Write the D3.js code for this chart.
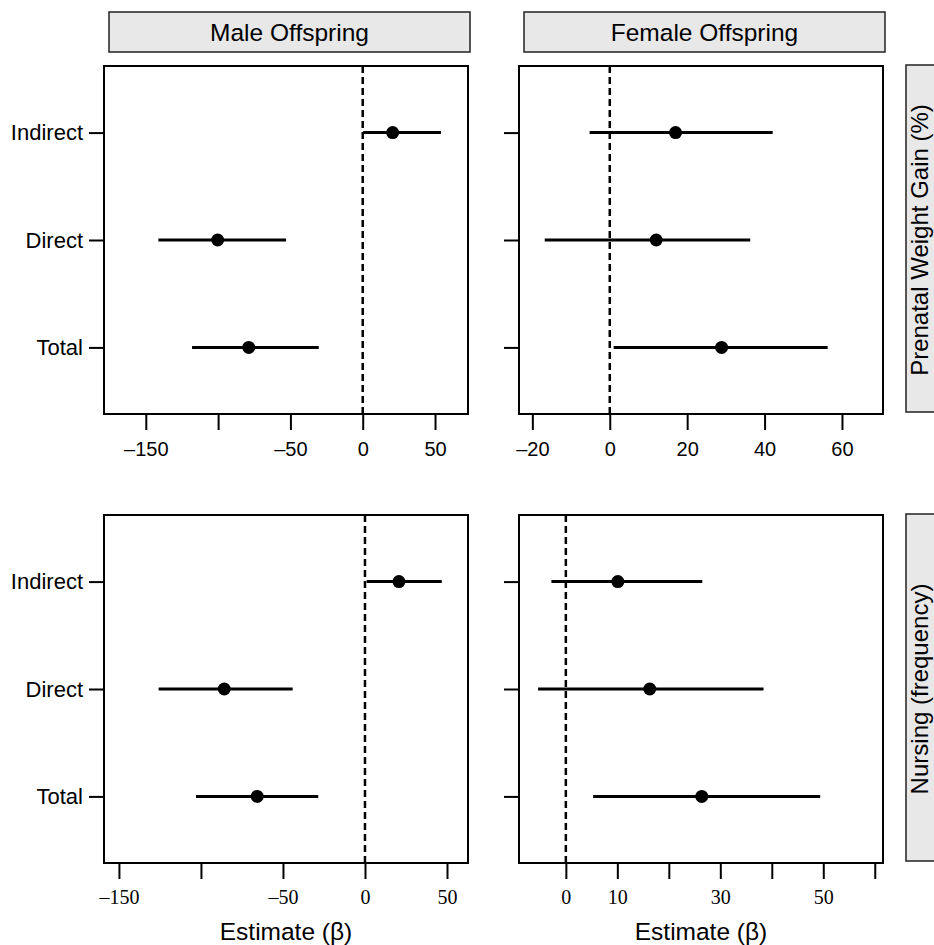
<!DOCTYPE html>
<html><head><meta charset="utf-8">
<script src="https://cdn.jsdelivr.net/npm/d3@7"></script>
<style>body{margin:0;background:#fff}svg{display:block}</style>
</head><body>
<svg id="chart" width="934" height="945"></svg>
<script>
// ---------- data ----------
const effects = ["Indirect", "Direct", "Total"];
const sexes = ["Male Offspring", "Female Offspring"];
const outcomes = ["Prenatal Weight Gain (%)", "Nursing (frequency)"];

const pwgMaleEst   = [20.7, -100.3, -78.8];
const pwgMaleLow   = [0.3, -141.3, -118.0];
const pwgMaleHigh  = [54.1, -53.0, -30.4];

const pwgFemaleEst  = [17.0, 12.0, 28.9];
const pwgFemaleLow  = [-5.2, -16.8, 1.0];
const pwgFemaleHigh = [42.1, 36.3, 56.3];

const nurMaleEst   = [20.7, -85.8, -65.7];
const nurMaleLow   = [1.0, -125.8, -103.0];
const nurMaleHigh  = [46.8, -44.1, -28.5];

const nurFemaleEst  = [10.1, 16.3, 26.4];
const nurFemaleLow  = [-2.8, -5.4, 5.3];
const nurFemaleHigh = [26.5, 38.4, 49.4];

// axis limits (value units)
const pwgMaleLim = [-178.9, 72.8];
const pwgFemaleLim = [-23.45, 70.6];
const nurMaleLim = [-159.1, 62.8];
const nurFemaleLim = [-9.1, 61.6];

const maleTicks = [-150, -100, -50, 0, 50];
const maleTickLabels = ["\u2013150", "", "\u201350", "0", "50"];
const pwgFemaleTicks = [-20, 0, 20, 40, 60];
const pwgFemaleTickLabels = ["\u201320", "0", "20", "40", "60"];
const nurFemaleTicks = [0, 10, 20, 30, 40, 50, 60];
const nurFemaleTickLabels = ["0", "10", "", "30", "", "50", ""];

const xTitle = "Estimate (\u03b2)";

// ---------- panels ----------
const panels = [
  {row:0, col:0, est:pwgMaleEst, low:pwgMaleLow, high:pwgMaleHigh, lim:pwgMaleLim, ticks:maleTicks, labels:maleTickLabels},
  {row:0, col:1, est:pwgFemaleEst, low:pwgFemaleLow, high:pwgFemaleHigh, lim:pwgFemaleLim, ticks:pwgFemaleTicks, labels:pwgFemaleTickLabels},
  {row:1, col:0, est:nurMaleEst, low:nurMaleLow, high:nurMaleHigh, lim:nurMaleLim, ticks:maleTicks, labels:maleTickLabels},
  {row:1, col:1, est:nurFemaleEst, low:nurFemaleLow, high:nurFemaleHigh, lim:nurFemaleLim, ticks:nurFemaleTicks, labels:nurFemaleTickLabels}
];

const colX = [104, 519], panelW = 364;
const rowY = [66, 515], panelH = 348;

const svg = d3.select("#chart");
const sans = "'Liberation Sans', Arial, Helvetica, sans-serif";
const serif = "'Liberation Serif', 'Times New Roman', serif";

// column strips
sexes.forEach((s, i) => {
  const g = svg.append("g");
  g.append("rect").attr("x", colX[i] + 5).attr("y", 12).attr("width", panelW - 3).attr("height", 40)
    .attr("fill", "#e8e8e8").attr("stroke", "#222").attr("stroke-width", 1.5);
  g.append("text").attr("x", colX[i] + 5 + (panelW - 3) / 2).attr("y", 32)
    .attr("text-anchor", "middle").attr("dominant-baseline", "central")
    .attr("font-family", sans).attr("font-size", 24.5).attr("fill", "#000").text(s);
});

// row strips
outcomes.forEach((o, i) => {
  const g = svg.append("g");
  g.append("rect").attr("x", 906).attr("y", rowY[i] - 1).attr("width", 42).attr("height", panelH - 1)
    .attr("fill", "#e8e8e8").attr("stroke", "#222").attr("stroke-width", 1.5);
  g.append("text").attr("transform", `translate(919.5,${rowY[i] + panelH / 2}) rotate(-90)`)
    .attr("text-anchor", "middle").attr("dominant-baseline", "central")
    .attr("font-family", sans).attr("font-size", 24).attr("fill", "#000").text(o);
});

panels.forEach(p => {
  const x0 = colX[p.col], y0 = rowY[p.row];
  const x = d3.scaleLinear().domain(p.lim).range([x0, x0 + panelW]);
  const y = d3.scalePoint().domain(effects).range([y0, y0 + panelH]).padding(0.62);
  const g = svg.append("g");

  // x axis (ticks outward)
  const xAxis = d3.axisBottom(x).tickValues(p.ticks).tickSize(15).tickPadding(p.row === 0 ? 12 : 11)
    .tickFormat((d, i) => p.labels[i]);
  const xa = g.append("g").attr("transform", `translate(0,${y0 + panelH + 1})`).call(xAxis);
  xa.select(".domain").remove();
  xa.selectAll(".tick line").attr("stroke", "#000").attr("stroke-width", 2);
  xa.selectAll(".tick text").attr("fill", "#000")
    .attr("font-family", p.row === 1 ? serif : sans).attr("font-size", 20);

  // y axis
  const yAxis = d3.axisLeft(y).tickSize(15).tickPadding(6)
    .tickFormat(d => p.col === 0 ? d : "");
  const ya = g.append("g").attr("transform", `translate(${x0},0)`).call(yAxis);
  ya.select(".domain").remove();
  ya.selectAll(".tick line").attr("stroke", "#000").attr("stroke-width", 2);
  ya.selectAll(".tick text").attr("fill", "#000").attr("font-family", sans).attr("font-size", 22);

  // zero reference line
  g.append("line").attr("x1", x(0)).attr("x2", x(0)).attr("y1", y0).attr("y2", y0 + panelH)
    .attr("stroke", "#000").attr("stroke-width", 2.5).attr("stroke-dasharray", "7,4");

  // intervals
  g.selectAll("line.ci").data(effects).join("line").attr("class", "ci")
    .attr("x1", (d, i) => x(p.low[i])).attr("x2", (d, i) => x(p.high[i]))
    .attr("y1", d => y(d)).attr("y2", d => y(d))
    .attr("stroke", "#000").attr("stroke-width", 3);

  // estimates
  g.selectAll("circle").data(effects).join("circle")
    .attr("cx", (d, i) => x(p.est[i])).attr("cy", d => y(d)).attr("r", 6.5).attr("fill", "#000");

  // panel border
  g.append("rect").attr("x", x0).attr("y", y0).attr("width", panelW).attr("height", panelH)
    .attr("fill", "none").attr("stroke", "#000").attr("stroke-width", 2);

  if (p.row === 1) {
    g.append("text").attr("x", x0 + panelW / 2).attr("y", 940)
      .attr("text-anchor", "middle").attr("font-family", sans).attr("font-size", 24.5)
      .attr("fill", "#000").text(xTitle);
  }
});
</script>
</body></html>
